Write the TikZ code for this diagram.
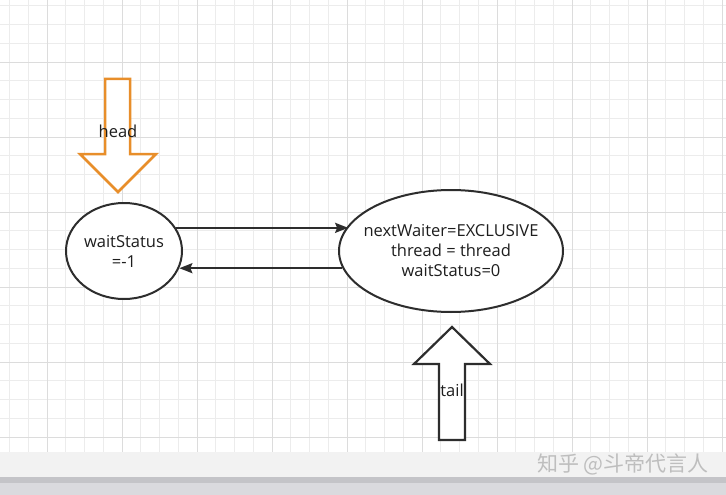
\documentclass[tikz,border=0pt]{standalone}
\usepackage{fontspec}
\setmainfont{Open Sans}
\newfontfamily\cjk{Noto Sans CJK SC}
\usetikzlibrary{shapes.geometric,arrows.meta}
\definecolor{linegray}{RGB}{45,45,45}
\definecolor{textgray}{RGB}{30,30,30}
\definecolor{headorange}{RGB}{232,142,42}
\definecolor{gridminor}{RGB}{236,236,236}
\definecolor{gridmajor}{RGB}{220,220,220}
\definecolor{barlight}{RGB}{242,242,242}
\definecolor{bardark}{RGB}{196,196,200}
\definecolor{barfade}{RGB}{218,218,222}
\definecolor{wmgray}{RGB}{190,190,190}
\tikzset{
	state/.style={ellipse, draw=linegray, line width=2pt, fill=white, inner sep=0pt, align=center, text=textgray, font=\fontsize{16.5}{20}\selectfont},
	link/.style={draw=linegray, line width=2pt, -{Stealth[length=13pt,width=10pt,inset=2pt]}},
	blockarrow/.style={line width=2.2pt, fill=white, line join=miter},
	label/.style={inner sep=0.75pt, text=textgray, font=\fontsize{16.5}{18}\selectfont}
}
\begin{document}
\begin{tikzpicture}[x=1pt,y=1pt,yscale=-1,xscale=1]
		\useasboundingbox (0,0) rectangle (726,495);
		\fill[white] (0,0) rectangle (726,452);
		
		%Grid
		\foreach \i in {0,...,38}
			\draw[gridminor, line width=0.8pt] ({9.5+18.75*\i},0) -- ({9.5+18.75*\i},452);
		\foreach \j in {0,...,23}
			\draw[gridminor, line width=0.8pt] (0,{5.75+18.75*\j}) -- (726,{5.75+18.75*\j});
		\foreach \i in {0,...,9}
			\draw[gridmajor, line width=0.8pt] ({47+75*\i},0) -- ({47+75*\i},452);
		\foreach \j in {0,...,5}
			\draw[gridmajor, line width=0.8pt] (0,{62+75*\j}) -- (726,{62+75*\j});
		
		%Shape: Single Arrow (head)
		\draw[blockarrow, draw=headorange, line width=2.5pt] (105,79) -- (130,79) -- (130,154) -- (156,154) -- (118,192) -- (80,154) -- (105,154) -- cycle ;
		%Shape: Single Arrow (tail)
		\draw[blockarrow, draw=linegray] (439,440) -- (465,440) -- (465,364) -- (490,364) -- (452,327) -- (414,364) -- (439,364) -- cycle ;
		
		%Shape: Ellipse
		\node[state, minimum width=116, minimum height=96] (ws) at (124,251) {waitStatus\\=-1};
		%Shape: Ellipse
		\node[state, inner xsep=-20pt, minimum width=224, minimum height=122] (nw) at (451,251) {nextWaiter=EXCLUSIVE\\thread = thread\\waitStatus=0};
		
		%Straight Lines
		\draw[link] (ws.24) -- (nw.166 |- ws.24) ;
		%Straight Lines
		\draw[link] (nw.189) -- (ws.-17 |- nw.189) ;
		
		% Text Node
		\draw (118,131) node [label] (headlbl) {head};
		% Text Node
		\draw (452,390) node [label] (taillbl) {tail};
		
		%Bottom bar
		\fill[barlight] (0,452) rectangle (726,477);
		\fill[bardark] (0,477) rectangle (726,483);
		\fill[barfade] (0,483) rectangle (726,495);
		% Text Node
		\draw (709,464) node [anchor=east, inner sep=0pt, text=wmgray, font=\cjk\fontsize{21}{21}\selectfont] (wm) {知乎 @斗帝代言人};
	\end{tikzpicture}
\end{document}
